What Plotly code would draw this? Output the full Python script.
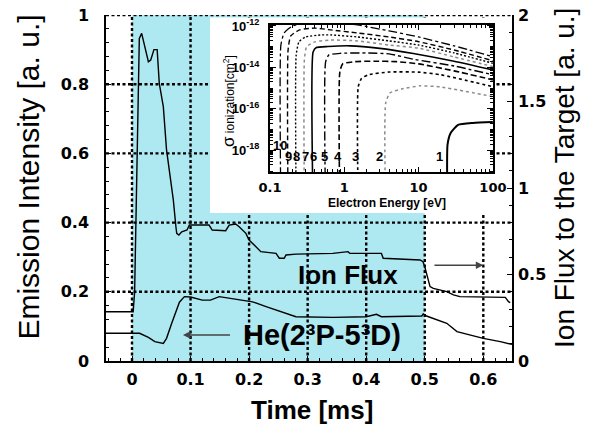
import math
import plotly.graph_objects as go

FONT = "Liberation Sans"
TFONT = "DejaVu Sans"

# ---------------- main chart data ----------------
ion_t = [-0.045, 0.002, 0.0045, 0.0125, 0.0165, 0.021, 0.028, 0.032, 0.0375, 0.043,
         0.0466, 0.0535, 0.059, 0.066, 0.0706, 0.075, 0.0764, 0.080, 0.085, 0.094,
         0.098, 0.1316, 0.137, 0.160, 0.166, 0.177, 0.183, 0.1945, 0.200, 0.2117,
         0.220, 0.246, 0.2516, 0.260, 0.263, 0.280, 0.343, 0.369, 0.372, 0.426,
         0.429, 0.492, 0.497, 0.500, 0.509, 0.5146, 0.5376, 0.549, 0.560, 0.6376,
         0.643, 0.646]
ion_flux = [0.285, 0.285, 0.40, 1.865, 1.894, 1.836, 1.73, 1.74, 1.80, 1.80,
            1.605, 1.47, 1.22, 1.046, 0.93, 0.776, 0.738, 0.728, 0.747, 0.757,
            0.786, 0.786, 0.757, 0.753, 0.786, 0.792, 0.776, 0.738, 0.699, 0.661,
            0.632, 0.622, 0.594, 0.594, 0.613, 0.618, 0.622, 0.632, 0.622, 0.622,
            0.594, 0.584, 0.574, 0.545, 0.430, 0.420, 0.401, 0.382, 0.372, 0.368,
            0.343, 0.337]

he_t = [-0.045, 0.013, 0.028, 0.039, 0.0535, 0.059, 0.068, 0.081, 0.0895, 0.100,
        0.120, 0.134, 0.149, 0.183, 0.206, 0.229, 0.263, 0.280, 0.343, 0.400,
        0.4175, 0.426, 0.495, 0.4975, 0.503, 0.5376, 0.555, 0.600, 0.629, 0.649]
he_emission = [0.080, 0.080, 0.068, 0.056, 0.051, 0.0655, 0.110, 0.170, 0.186, 0.185,
               0.176, 0.176, 0.186, 0.178, 0.171, 0.157, 0.138, 0.128, 0.126, 0.128,
               0.135, 0.128, 0.130, 0.136, 0.130, 0.109, 0.085, 0.0655, 0.056, 0.048]

x_ticks = [0, 0.1, 0.2, 0.3, 0.4, 0.5, 0.6]
y_left_grid = [0.2, 0.4, 0.6, 0.8, 1.0]
y_right_ticks = [0, 0.5, 1, 1.5, 2]

# ---------------- inset data (electron energy [eV], sigma [cm^2]) ----------------
E1 = [24.5, 24.5, 27, 34, 54, 100]
S1 = [1e-21, 1.86e-18, 6.9e-18, 1.7e-17, 2.1e-17, 2.3e-17]
E2 = [3.6, 3.6, 4.1, 5.9, 10.4, 19.4, 100]
S2 = [1e-21, 1.86e-16, 5.8e-16, 9.1e-16, 1.29e-15, 1.15e-15, 3.9e-16]
E3 = [1.54, 1.54, 1.71, 2.1, 4, 10, 20, 100]
S3 = [1e-21, 1.17e-15, 3.0e-15, 4.4e-15, 6.0e-15, 5.9e-15, 4.4e-15, 1.17e-15]
E4 = [0.87, 0.87, 0.95, 1.4, 2.5, 5, 10, 30, 100]
S4 = [1e-21, 6.0e-15, 1.48e-14, 1.9e-14, 2.0e-14, 1.9e-14, 1.48e-14, 6.8e-15, 2.5e-15]
E5 = [0.56, 0.56, 0.62, 0.9, 2, 4, 8.5, 30, 100]
S5 = [1e-21, 1.86e-14, 4.0e-14, 4.8e-14, 5.0e-14, 4.5e-14, 2.5e-14, 1.17e-14, 4.4e-15]
E6 = [0.38, 0.38, 0.42, 0.6, 1.2, 3, 8.5, 30, 100]
S6 = [1e-21, 5.6e-14, 9.1e-14, 1.02e-13, 1.1e-13, 8.3e-14, 4.7e-14, 2.0e-14, 7.6e-15]
E7 = [0.29, 0.29, 0.31, 0.4, 0.65, 1.5, 4, 10, 30, 100]
S7 = [1e-21, 2.3e-14, 9.8e-14, 1.7e-13, 2.1e-13, 1.9e-13, 1.2e-13, 8.5e-14, 3.2e-14, 1.1e-14]
E8 = [0.225, 0.225, 0.245, 0.3, 0.5, 0.65, 1.5, 4, 10, 30, 100]
S8 = [1e-21, 4.0e-14, 1.7e-13, 2.95e-13, 3.7e-13, 3.7e-13, 2.95e-13, 1.9e-13, 1.2e-13, 5.0e-14, 1.58e-14]
E9 = [0.175, 0.175, 0.19, 0.25, 0.4, 0.65, 1.5, 4, 10, 30, 100]
S9 = [1e-21, 6.9e-14, 3.3e-13, 6.5e-13, 7.9e-13, 6.5e-13, 4.6e-13, 2.95e-13, 1.74e-13, 6.9e-14, 2.1e-14]
E10 = [0.14, 0.14, 0.155, 0.2, 0.35, 0.65, 1.5, 4, 10, 30, 100]
S10 = [1e-21, 1.2e-13, 4.6e-13, 1.0e-12, 1.55e-12, 1.55e-12, 1.12e-12, 5.8e-13, 2.95e-13, 1.1e-13, 3.3e-14]

curve_names = ["1", "2", "3", "4", "5", "6", "7", "8", "9", "10"]
curve_E = [E1, E2, E3, E4, E5, E6, E7, E8, E9, E10]
curve_S = [S1, S2, S3, S4, S5, S6, S7, S8, S9, S10]

label_E = [18.9, 2.93, 1.43, 0.81, 0.545, 0.383, 0.296, 0.229, 0.176, 0.137]
label_S = [5.0e-19, 5.0e-19, 5.0e-19, 5.0e-19, 5.0e-19, 5.0e-19, 5.0e-19, 5.0e-19, 5.0e-19, 1.7e-18]

inset_xticks = [0.1, 1, 10, 100]
inset_xtext = ["0.1", "1", "10", "100"]
inset_yticks = [1e-18, 1e-16, 1e-14, 1e-12]
inset_ytext = ["10<sup>-18</sup>", "10<sup>-16</sup>", "10<sup>-14</sup>", "10<sup>-12</sup>"]

# ---------------- styles ----------------
styles = [
    dict(color="black", width=2.0, dash="solid"),
    dict(color="#8a8a8a", width=1.5, dash="dot"),
    dict(color="black", width=1.6, dash="dot"),
    dict(color="black", width=1.6, dash="6px,3px"),
    dict(color="black", width=1.4, dash="dashdot"),
    dict(color="black", width=1.6, dash="solid"),
    dict(color="#8a8a8a", width=1.5, dash="dot"),
    dict(color="black", width=1.4, dash="2px,2px"),
    dict(color="black", width=1.4, dash="5px,3px"),
    dict(color="black", width=1.3, dash="dashdot"),
]

fig = go.Figure()

fig.add_trace(go.Scatter(x=he_t, y=he_emission, mode="lines",
                         line=dict(color="black", width=1.4),
                         xaxis="x", yaxis="y", hoverinfo="skip"))
fig.add_trace(go.Scatter(x=ion_t, y=ion_flux, mode="lines",
                         line=dict(color="black", width=1.4),
                         xaxis="x", yaxis="y2", hoverinfo="skip"))

for name, E, S, st in zip(curve_names, curve_E, curve_S, styles):
    fig.add_trace(go.Scatter(x=E, y=S, mode="lines", name=name,
                             line=dict(color=st["color"], width=st["width"], dash=st["dash"],
                                       shape="spline", smoothing=0.5),
                             xaxis="x3", yaxis="y3", hoverinfo="skip"))

# ---------------- shapes ----------------
GRID = dict(color="black", width=2.4, dash="3px,2.5px")
shapes = [dict(type="rect", xref="x", yref="paper", x0=0, x1=0.5, y0=0, y1=1,
               fillcolor="#AEE8F1", line=dict(width=0), layer="below")]
for t in x_ticks:
    shapes.append(dict(type="line", xref="x", yref="paper", x0=t, x1=t, y0=0, y1=1,
                       line=GRID, layer="below"))
for v in y_left_grid:
    shapes.append(dict(type="line", xref="paper", yref="y", x0=0, x1=1, y0=v, y1=v,
                       line=GRID, layer="below"))
shapes.append(dict(type="rect", xref="paper", yref="paper", x0=0.2562, x1=0.9606,
                   y0=0.4277, y1=0.9928, fillcolor="white", line=dict(width=0), layer="below"))

# ---------------- annotations ----------------
C = dict(xanchor="center", yanchor="middle", showarrow=False)
ann = []
ann.append(dict(text="Emission Intensity [a. u.]", xref="paper", yref="paper",
                x=-0.1897, y=0.533, textangle=-90,
                font=dict(family=FONT, size=30, color="black"), **C))
ann.append(dict(text="Ion Flux to the Target [a. u.]", xref="paper", yref="paper",
                x=1.1305, y=0.529, textangle=-90,
                font=dict(family=FONT, size=28, color="black"), **C))
ann.append(dict(text="Time [ms]", xref="paper", yref="paper", x=0.5067, y=-0.1416,
                font=dict(family=FONT, size=26, color="black", weight="bold"), **C))
ann.append(dict(text="Ion Flux", xref="x", yref="y", x=0.369, y=0.249,
                font=dict(family=FONT, size=26, color="black", weight="bold"), **C))
ann.append(dict(text="He(2³P-5³D)", xref="x", yref="y", x=0.324, y=0.075,
                font=dict(family=FONT, size=29, color="black", weight="bold"), **C))
# arrows
ann.append(dict(text="", xref="x", yref="y", x=0.600, y=0.277, axref="x", ayref="y",
                ax=0.514, ay=0.277, showarrow=True, arrowhead=2, arrowsize=1,
                arrowwidth=1.5, arrowcolor="#444"))
ann.append(dict(text="", xref="x", yref="y", x=0.087, y=0.075, axref="x", ayref="y",
                ax=0.170, ay=0.075, showarrow=True, arrowhead=2, arrowsize=1,
                arrowwidth=1.5, arrowcolor="#444"))
# inset titles
ann.append(dict(text="<span style='font-size:17px'>σ</span> ionization[cm<sup>2</sup>]",
                xref="paper", yref="paper", x=0.3005, y=0.7514, textangle=-90,
                font=dict(family=FONT, size=12, color="black"), **C))
ann.append(dict(text="Electron Energy [eV]", xref="paper", yref="paper", x=0.6914, y=0.4566,
                font=dict(family=FONT, size=12, color="black", weight="bold"), **C))
for name, e, s in zip(curve_names, label_E, label_S):
    ann.append(dict(text=name, xref="x3", yref="y3", x=math.log10(e), y=math.log10(s),
                    font=dict(family=FONT, size=13, color="black", weight="bold"), **C))

fig.update_layout(
    width=590, height=432,
    margin=dict(l=106, r=78, t=15, b=71, autoexpand=False),
    paper_bgcolor="white", plot_bgcolor="white",
    showlegend=False,
    shapes=shapes, annotations=ann,
    xaxis=dict(range=[-0.0444, 0.649], tickvals=x_ticks, ticks="inside", ticklen=5,
               tickwidth=1.3, tickcolor="black", showline=True, linecolor="black", linewidth=1.5,
               showgrid=False, zeroline=False, ticklabelstandoff=3,
               minor=dict(dtick=0.02, tick0=0, ticks="inside", ticklen=3, tickcolor="black", showgrid=False),
               tickfont=dict(family=TFONT, size=16, color="black", weight="bold")),
    yaxis=dict(range=[0, 1], dtick=0.2, ticks="inside", ticklen=5, tickwidth=1.3, tickcolor="black",
               showline=True, linecolor="black", linewidth=1.5, showgrid=False, zeroline=False,
               ticklabelstandoff=12,
               minor=dict(dtick=0.04, tick0=0, ticks="inside", ticklen=3, tickcolor="black", showgrid=False),
               tickfont=dict(family=TFONT, size=16, color="black", weight="bold")),
    yaxis2=dict(range=[0, 2], tickvals=y_right_ticks, overlaying="y", side="right", anchor="x",
                ticks="inside", ticklen=5, tickwidth=1.3, tickcolor="black",
                showline=True, linecolor="black", linewidth=1.5, showgrid=False, zeroline=False,
                ticklabelstandoff=1,
                minor=dict(dtick=0.1, tick0=0, ticks="inside", ticklen=3, tickcolor="black", showgrid=False),
                tickfont=dict(family=TFONT, size=16, color="black", weight="bold")),
    xaxis3=dict(type="log", range=[-1, 2], domain=[0.404, 0.953], anchor="y3",
                tickvals=inset_xticks, ticktext=inset_xtext, ticks="inside", ticklen=5,
                tickcolor="black", showline=True, linecolor="black", linewidth=2, mirror="allticks",
                showgrid=False, zeroline=False, ticklabelstandoff=2,
                minor=dict(dtick="D1", ticks="inside", ticklen=3, tickcolor="black", showgrid=False),
                tickfont=dict(family=TFONT, size=13, color="black", weight="bold")),
    yaxis3=dict(type="log", range=[-19.05, -11.93], domain=[0.546, 0.9725], anchor="x3",
                tickvals=inset_yticks, ticktext=inset_ytext, ticks="inside", ticklen=6,
                tickcolor="black", showline=True, linecolor="black", linewidth=2, mirror="allticks",
                showgrid=False, zeroline=False, ticklabelstandoff=6,
                minor=dict(dtick="D1", ticks="inside", ticklen=3, tickcolor="black", showgrid=False),
                tickfont=dict(family=FONT, size=13, color="black", weight="bold")),
)

fig.write_html("out.html")
